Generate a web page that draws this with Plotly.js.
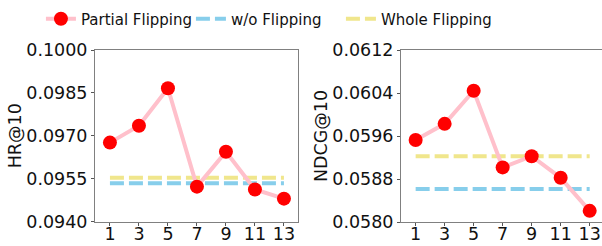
<!DOCTYPE html>
<html><head><meta charset="utf-8">
<script src="https://cdn.plot.ly/plotly-3.0.1.min.js"></script>
<style>html,body{margin:0;padding:0;background:#fff}</style>
</head><body><div id="chart" style="width:602px;height:246px"></div>
<script>
const xVals = [1, 3, 5, 7, 9, 11, 13];
const xTickLabels = ["1", "3", "5", "7", "9", "11", "13"];
const hrPartial = [0.09676, 0.09735, 0.09866, 0.09522, 0.09644, 0.09512, 0.09480];
const hrWithout = [0.09534, 0.09534, 0.09534, 0.09534, 0.09534, 0.09534, 0.09534];
const hrWhole = [0.09553, 0.09553, 0.09553, 0.09553, 0.09553, 0.09553, 0.09553];
const ndcgPartial = [0.059525, 0.059826, 0.060441, 0.059016, 0.059224, 0.058822, 0.058207];
const ndcgWithout = [0.058615, 0.058615, 0.058615, 0.058615, 0.058615, 0.058615, 0.058615];
const ndcgWhole = [0.059224, 0.059224, 0.059224, 0.059224, 0.059224, 0.059224, 0.059224];

const FONT = "DejaVu Sans";
const pink = "#FFC0CB", red = "#FF0000", sky = "#87CEEB", khaki = "#F0E68C";

function dashed(x, y, color, name, xa, ya, show) {
  return {x, y, type: "scatter", mode: "lines", name, xaxis: xa, yaxis: ya, showlegend: show,
    line: {color, width: 4, dash: "14px,5px"}, hoverinfo: "skip"};
}
function partial(x, y, xa, ya, show) {
  return {x, y, type: "scatter", mode: "lines+markers", name: "Partial Flipping", xaxis: xa, yaxis: ya,
    showlegend: show, line: {color: pink, width: 4}, marker: {color: red, size: 14}};
}

const data = [
  dashed(xVals, hrWhole, khaki, "Whole Flipping", "x", "y", false),
  dashed(xVals, hrWithout, sky, "w/o Flipping", "x", "y", false),
  partial(xVals, hrPartial, "x", "y", true),
  dashed(xVals, ndcgWithout, sky, "w/o Flipping", "x2", "y2", true),
  dashed(xVals, ndcgWhole, khaki, "Whole Flipping", "x2", "y2", true),
  partial(xVals, ndcgPartial, "x2", "y2", false)
];

const axBase = {showline: true, linecolor: "#808080", linewidth: 1, ticks: "outside", ticklen: 3,
  tickcolor: "#555", showgrid: false, zeroline: false, tickfont: {family: FONT, size: 17.5, color: "#111"}};
const xExtra = {ticklabelstandoff: -7};

const layout = {
  width: 602, height: 246, margin: {l: 0, r: 0, t: 0, b: 0},
  paper_bgcolor: "#fff", plot_bgcolor: "#fff",
  font: {family: FONT, color: "#111"},
  showlegend: true,
  legend: {orientation: "h", x: 0.068, y: 0.99, xanchor: "left", yanchor: "top",
    font: {family: FONT, size: 15, color: "#111"}, traceorder: "normal",
    entrywidth: 105, entrywidthmode: "pixels", itemwidth: 30},
  xaxis: Object.assign({}, axBase, xExtra, {domain: [95/602, 298/602], range: [-0.03, 13.97],
    tickvals: xVals, ticktext: xTickLabels, mirror: true, anchor: "y"}),
  yaxis: Object.assign({}, axBase, {domain: [1 - 221.5/246, 1 - 50/246], range: [0.094, 0.100],
    tick0: 0.094, dtick: 0.0015, tickformat: ".4f", mirror: true, anchor: "x",
    title: {text: "HR@10", font: {family: FONT, size: 17.5, color: "#111"}, standoff: 0}}),
  xaxis2: Object.assign({}, axBase, xExtra, {domain: [401/602, 1], range: [-0.01, 13.85],
    tickvals: xVals, ticktext: xTickLabels, mirror: true, anchor: "y2"}),
  yaxis2: Object.assign({}, axBase, {domain: [1 - 222/246, 1 - 50/246], range: [0.058, 0.0612],
    tick0: 0.058, dtick: 0.0008, tickformat: ".4f", mirror: false, anchor: "x2",
    title: {text: "NDCG@10", font: {family: FONT, size: 17.5, color: "#111"}, standoff: 0}})
};

Plotly.newPlot("chart", data, layout, {displayModeBar: false, staticPlot: true});
</script></body></html>
